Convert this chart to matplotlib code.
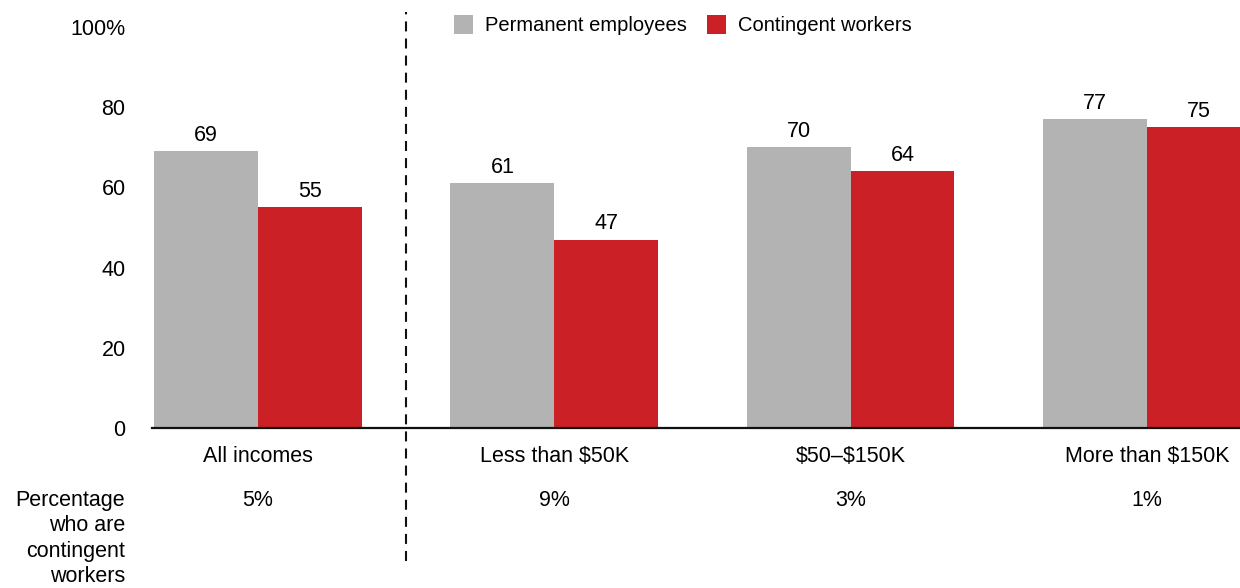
import numpy as np
import matplotlib.pyplot as plt
from matplotlib.lines import Line2D

plt.rcParams['font.family'] = ['Liberation Sans', 'DejaVu Sans']
plt.rcParams['font.size'] = 15.5

# data
categories = ['All incomes', 'Less than \\$50K', '\\$50\u2013\\$150K', 'More than \\$150K']
permanent = [69, 61, 70, 77]
contingent = [55, 47, 64, 75]
share_contingent = ['5%', '9%', '3%', '1%']
yticks = [0, 20, 40, 60, 80, 100]
ytick_labels = ['0', '20', '40', '60', '80', '100%']

grey = '#b3b3b3'
red = '#cc2027'
W, H = 1240, 588

fig = plt.figure(figsize=(W / 100, H / 100), dpi=100)
ax = fig.add_axes([152 / W, 1 - 428 / H, (W - 152) / W, (428 - 27) / H])

x = np.arange(len(categories))
bw = 0.35
ax.bar(x - bw / 2, permanent, bw, color=grey, label='Permanent employees')
ax.bar(x + bw / 2, contingent, bw, color=red, label='Contingent workers')

for xi, p, c in zip(x, permanent, contingent):
    ax.annotate(str(p), (xi - bw / 2, p), xytext=(0, 4), textcoords='offset points',
                ha='center', va='bottom')
    ax.annotate(str(c), (xi + bw / 2, c), xytext=(0, 4), textcoords='offset points',
                ha='center', va='bottom')

ax.set_xlim(-0.357, 3.314)
ax.set_ylim(0, 100)
ax.set_yticks(yticks)
ax.set_yticklabels(ytick_labels)
ax.tick_params(axis='y', length=0, pad=19)
ax.set_xticks([])
for s in ['top', 'right', 'left']:
    ax.spines[s].set_visible(False)
ax.spines['bottom'].set_linewidth(1.6)
ax.spines['bottom'].set_color('#111111')

# category names and share row
trans = ax.get_xaxis_transform()
for xi, cat, sh in zip(x, categories, share_contingent):
    ax.text(xi, -29 / 401, cat, transform=trans, ha='center', va='center', clip_on=False)
    ax.text(xi, -73 / 401, sh, transform=trans, ha='center', va='center', clip_on=False)

fig.text(125 / W, 1 - 490 / H, 'Percentage\nwho are\ncontingent\nworkers', ha='right', va='top',
         linespacing=1.27)

# dashed separator
sep_x = ax.transData.transform((0.5, 0))[0] / W
fig.add_artist(Line2D([sep_x, sep_x], [1 - 561 / H, 1 - 12 / H], transform=fig.transFigure,
                      color='#111111', lw=1.5, linestyle=(0, (4.8, 3.4))))

fig.legend(loc='upper left', bbox_to_anchor=(446 / W, 1 - 7 / H), ncol=2, frameon=False,
           fontsize=14.5, handlelength=0.95, handleheight=1.05, handletextpad=0.6,
           columnspacing=1.0, borderaxespad=0)

fig.savefig('out.png', dpi=100)
